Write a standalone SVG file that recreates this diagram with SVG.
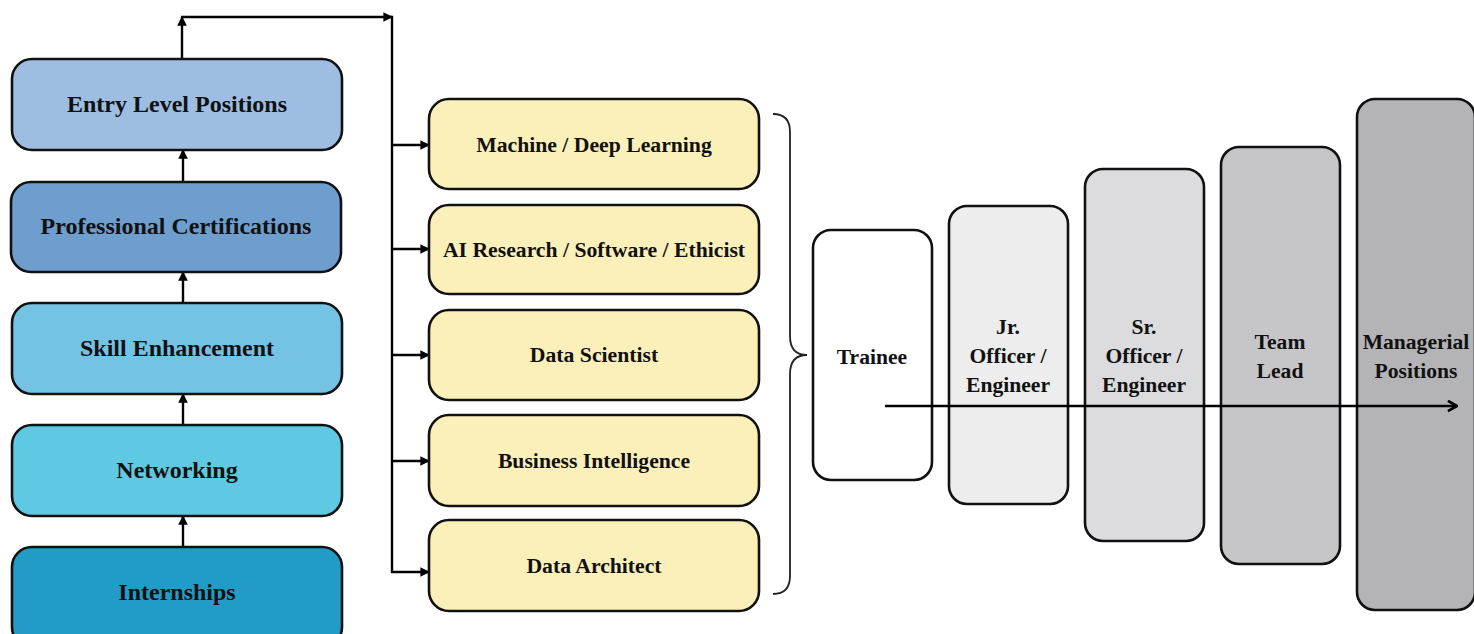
<svg xmlns="http://www.w3.org/2000/svg" width="1474" height="634" viewBox="0 0 1474 634">
<defs>
<style>
.box{stroke:#111;stroke-width:2.6}
.t{font-family:"Liberation Serif","DejaVu Serif",serif;font-weight:bold;fill:#111;text-anchor:middle;dominant-baseline:central}
.l{font-size:24px}
.m{font-size:21.7px}
.r{font-size:21.6px}
.c{fill:none;stroke:#000;stroke-width:2.4}
</style>
<marker id="ah" viewBox="0 0 10 10" refX="9" refY="5" markerWidth="4" markerHeight="4" orient="auto" markerUnits="strokeWidth">
<path d="M0,0 L10,5 L0,10 Z" fill="#000"/>
</marker>
<marker id="chev" viewBox="0 0 10 10" refX="9" refY="5" markerWidth="5" markerHeight="5" orient="auto" markerUnits="strokeWidth">
<path d="M2,1 L9,5 L2,9" fill="none" stroke="#000" stroke-width="2"/>
</marker>
</defs>
<rect width="1474" height="634" fill="#fff"/>

<g id="connectors">
<line class="c" x1="183" y1="547" x2="183" y2="516" marker-end="url(#ah)"/>
<line class="c" x1="183" y1="425" x2="183" y2="394" marker-end="url(#ah)"/>
<line class="c" x1="183" y1="303" x2="183" y2="272" marker-end="url(#ah)"/>
<line class="c" x1="183" y1="182" x2="183" y2="150" marker-end="url(#ah)"/>
<line class="c" x1="182" y1="59" x2="182" y2="17" marker-end="url(#ah)"/>
<line class="c" x1="181" y1="17" x2="392" y2="17" marker-end="url(#ah)"/>
<line class="c" x1="392" y1="15.8" x2="392" y2="573"/>
<line class="c" x1="391" y1="145" x2="429" y2="145" marker-end="url(#ah)"/>
<line class="c" x1="391" y1="249" x2="429" y2="249" marker-end="url(#ah)"/>
<line class="c" x1="391" y1="355" x2="429" y2="355" marker-end="url(#ah)"/>
<line class="c" x1="391" y1="461" x2="429" y2="461" marker-end="url(#ah)"/>
<line class="c" x1="391" y1="572" x2="429" y2="572" marker-end="url(#ah)"/>
<path id="brace" d="M773,114 Q790,114 790,132 L790,336 Q790,355 807,355 Q790,355 790,374 L790,576 Q790,594 773,594" fill="none" stroke="#222" stroke-width="1.8"/>
</g>

<g id="internships"><rect class="box" x="12" y="547" width="330" height="100" rx="20" fill="#229CC7"/><text class="t l" x="177" y="592">Internships</text></g>
<g id="networking"><rect class="box" x="12" y="425" width="330" height="91" rx="20" fill="#5FC8E2"/><text class="t l" x="177" y="470">Networking</text></g>
<g id="skill"><rect class="box" x="12" y="303" width="330" height="91" rx="20" fill="#74C3E5"/><text class="t l" x="177" y="348">Skill Enhancement</text></g>
<g id="certs"><rect class="box" x="11" y="182" width="330" height="90" rx="20" fill="#6E9ECE"/><text class="t l" x="176" y="226">Professional Certifications</text></g>
<g id="entry"><rect class="box" x="12" y="59" width="330" height="91" rx="20" fill="#9DBDE3"/><text class="t l" x="177" y="104">Entry Level Positions</text></g>

<g id="ml"><rect class="box" x="429" y="99" width="330" height="90" rx="20" fill="#FBF0BA"/><text class="t m" x="594" y="145">Machine / Deep Learning</text></g>
<g id="ai"><rect class="box" x="429" y="205" width="330" height="89" rx="20" fill="#FBF0BA"/><text class="t m" x="594" y="250">AI Research / Software / Ethicist</text></g>
<g id="ds"><rect class="box" x="429" y="310" width="330" height="90" rx="20" fill="#FBF0BA"/><text class="t m" x="594" y="355">Data Scientist</text></g>
<g id="bi"><rect class="box" x="429" y="415" width="330" height="91" rx="20" fill="#FBF0BA"/><text class="t m" x="594" y="461">Business Intelligence</text></g>
<g id="da"><rect class="box" x="429" y="520" width="330" height="91" rx="20" fill="#FBF0BA"/><text class="t m" x="594" y="566">Data Architect</text></g>

<g id="trainee"><rect class="box" x="813" y="230" width="119" height="250" rx="18" fill="#fff"/><text class="t r" x="872" y="357">Trainee</text></g>
<g id="jr"><rect class="box" x="949" y="206" width="119" height="298" rx="18" fill="#ECEDEC"/><text class="t r" x="1008" y="327">Jr.</text><text class="t r" x="1008" y="356">Officer /</text><text class="t r" x="1008" y="385">Engineer</text></g>
<g id="sr"><rect class="box" x="1085" y="169" width="119" height="372" rx="18" fill="#DCDCDE"/><text class="t r" x="1144" y="327">Sr.</text><text class="t r" x="1144" y="356">Officer /</text><text class="t r" x="1144" y="385">Engineer</text></g>
<g id="team"><rect class="box" x="1221" y="147" width="119" height="417" rx="18" fill="#C6C6C8"/><text class="t r" x="1280" y="342">Team</text><text class="t r" x="1280" y="371">Lead</text></g>
<g id="mgr"><rect class="box" x="1357" y="99" width="118" height="511" rx="18" fill="#B4B4B6"/><text class="t r" x="1416" y="342">Managerial</text><text class="t r" x="1416" y="371">Positions</text></g>

<g id="progression"><line x1="885" y1="406" x2="1457" y2="406" stroke="#000" stroke-width="2.6" marker-end="url(#chev)"/></g>
</svg>
